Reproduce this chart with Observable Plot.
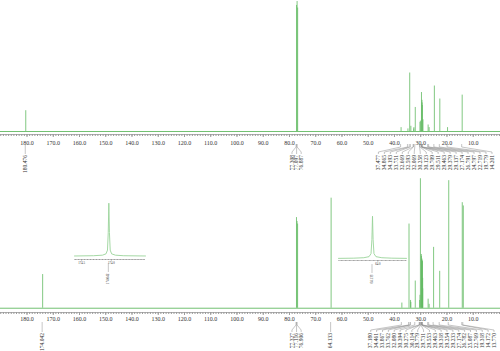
<!DOCTYPE html>
<html><head><meta charset="utf-8">
<script src="https://cdn.jsdelivr.net/npm/d3@7"></script>
<script src="https://cdn.jsdelivr.net/npm/@observablehq/plot@0.6"></script>
<style>
body{margin:0;background:#fff}
#chart{position:relative;width:500px;height:351px;overflow:hidden;background:#fff}
#chart svg{position:absolute;overflow:visible}
</style></head><body><div id="chart"></div>
<script>
// ---------- data ----------
const majorTicks = [180, 170, 160, 150, 140, 130, 120, 110, 100, 90, 80, 70, 60, 50, 40, 30, 20, 10];

const topPeakPpm = [180.476, 77.308, 77.097, 76.887,
  37.477, 34.865, 34.193, 33.751, 32.669, 32.593, 32.069, 30.258, 30.123, 29.709,
  29.511, 29.463, 29.379, 29.137, 27.174, 26.791, 24.797, 22.719, 19.779, 14.201];
const topPeakInt = [16, 97, 100, 95,
  3, 2, 45, 4, 2, 3, 18.5, 7, 8, 30,
  24, 22, 20, 9, 5, 3, 35, 25, 3, 28];
const topPeakGroup = ["a", "s", "s", "s",
  "c", "c", "c", "c", "c", "c", "c", "c", "c", "c",
  "c", "c", "c", "c", "c", "c", "c", "c", "c", "c"];

const botPeakPpm = [174.042, 77.327, 77.116, 76.906, 64.133,
  37.180, 34.461, 33.867, 33.762, 32.080, 30.394, 30.275, 30.114, 29.779, 29.731, 29.553,
  29.463, 29.318, 29.254, 29.233, 27.174, 26.782, 25.087, 22.769, 19.318, 14.172, 13.770];
const botPeakInt = [26, 70, 67, 65, 85,
  4, 65, 6, 4.5, 21, 6, 10, 100, 41.5, 40, 38,
  37, 36, 23, 15, 7, 3, 47, 28.5, 98.5, 81.5, 79];
const botPeakGroup = ["a", "s", "s", "s", "b",
  "c", "c", "c", "c", "c", "c", "c", "c", "c", "c", "c",
  "c", "c", "c", "c", "c", "c", "c", "c", "c", "c", "c"];

// inset 1 (carbonyl) and inset 2 (OCH2) traces
const inset1Ppm = [174.62, 174.3, 174.15, 174.09, 174.065, 174.052, 174.042, 174.032, 174.019, 173.995, 173.93, 173.8, 173.425];
const inset1Int = [1, 1.5, 2.5, 5, 12, 45, 100, 45, 12, 5, 2.5, 1.5, 1];
const inset1Ticks = [174.5, 174.0];
const inset1Label = [174.042];

const inset2Ppm = [64.983, 64.6, 64.35, 64.22, 64.17, 64.148, 64.133, 64.118, 64.096, 64.046, 63.9, 63.65, 63.283];
const inset2Int = [1, 1.5, 2.5, 5, 12, 45, 100, 45, 12, 5, 2.5, 1.5, 1];
const inset2Ticks = [64.0];
const inset2Label = [64.133];

// ---------- styling ----------
const GREEN = "#62ba62";
const LIGHT = "#9ad49a";
const AXIS = "#9a9a9a";
const TEXT = "#333";
const SERIF = "'Liberation Serif', 'Times New Roman', serif";
const minorMain = d3.range(0, 191);

function peakLabelMark(ppms, groups, cfg) {
  return (index, scales, values, dims) => {
    const x = scales.x;
    const y0 = dims.height - dims.marginBottom;
    const lx = ppms.map(p => x(p));
    for (const [name, idx] of d3.groups(d3.range(ppms.length), i => groups[i])) {
      const n = idx.length;
      if (n === 1) continue;
      const sp = cfg.spacing[name];
      const start = name === "c"
        ? dims.width - cfg.rightPad - (n - 1) * sp
        : d3.mean(idx, i => x(ppms[i])) - (n - 1) * sp / 2;
      idx.forEach((i, j) => lx[i] = start + j * sp);
    }
    const o = cfg.off;
    const g = d3.create("svg:g");
    g.append("g").attr("fill", "none").attr("stroke", "#8c8c8c").attr("stroke-width", 0.5)
      .selectAll("path").data(ppms).join("path")
      .attr("d", (p, i) => `M${x(p)},${y0 + o[0]}V${y0 + o[1]}L${lx[i]},${y0 + o[2]}V${y0 + o[3]}`);
    g.append("g").attr("font-family", SERIF).attr("font-size", cfg.fontSize).attr("fill", TEXT)
      .selectAll("text").data(ppms).join("text")
      .attr("transform", (p, i) => `translate(${lx[i]},${y0 + o[4]}) rotate(-90)`)
      .attr("text-anchor", "end").attr("dy", "0.32em")
      .text(p => p.toFixed(3));
    return g.node();
  };
}

function mainPanel(ppm, inten, groups, o) {
  const peaks = ppm.map((p, i) => ({ppm: p, int: inten[i]}));
  return Plot.plot({
    width: 500, height: o.height,
    marginTop: 0, marginLeft: 0, marginRight: 0, marginBottom: o.marginBottom,
    x: {domain: [190.1, -0.4], label: null},
    y: {domain: o.yDomain, axis: null},
    style: {background: "transparent", overflow: "visible"},
    marks: [
      Plot.ruleY([0], {stroke: GREEN, strokeWidth: 0.9}),
      Plot.ruleX(peaks, {x: "ppm", y1: 0, y2: "int", stroke: GREEN, strokeWidth: 0.8}),
      Plot.ruleY([o.yDomain[0]], {stroke: AXIS, strokeWidth: 0.8}),
      Plot.axisX({ticks: minorMain, tickSize: 2, tickFormat: () => "", stroke: AXIS, label: null}),
      Plot.axisX({ticks: majorTicks, tickSize: 3, tickPadding: o.tickPadding, tickFormat: d => d.toFixed(1),
        stroke: AXIS, fill: TEXT, fontSize: 6, fontFamily: SERIF, label: null}),
      peakLabelMark(ppm, groups, {spacing: {s: 4.6, c: o.spacing}, rightPad: o.rightPad,
        off: [10, 13, 18, 20, 21], fontSize: 5.5})
    ]
  });
}

function insetPanel(ppm, inten, ticks, minor, label, o) {
  const pts = ppm.map((p, i) => ({ppm: p, int: inten[i]}));
  return Plot.plot({
    width: o.width, height: o.height,
    marginTop: 0, marginLeft: 0, marginRight: 0, marginBottom: o.marginBottom,
    x: {domain: o.xDomain, label: null},
    y: {domain: o.yDomain, axis: null},
    style: {background: "transparent", overflow: "visible"},
    marks: [
      Plot.line(pts, {x: "ppm", y: "int", stroke: LIGHT, strokeWidth: 0.9}),
      Plot.ruleY([o.yDomain[0]], {stroke: AXIS, strokeWidth: 0.6}),
      Plot.axisX({ticks: minor, tickSize: 1, tickFormat: () => "", stroke: AXIS, label: null}),
      Plot.axisX({ticks: ticks, tickSize: 1.5, tickPadding: 1, tickFormat: d => d.toFixed(1),
        stroke: AXIS, fill: TEXT, fontSize: 3, fontFamily: SERIF, label: null}),
      peakLabelMark(label, ["a"], {spacing: {}, rightPad: 0, off: [4, 8, 11, 13, 14.5], fontSize: 3.3})
    ]
  });
}

const chart = document.getElementById("chart");
function place(el, left, top) {
  el.style.left = left + "px";
  el.style.top = top + "px";
  chart.appendChild(el);
}

place(mainPanel(topPeakPpm, topPeakInt, topPeakGroup,
  {height: 175, marginBottom: 41, yDomain: [-2.3, 100.8], tickPadding: 3.5, spacing: 5.98, rightPad: 8}), 0, 0);
place(mainPanel(botPeakPpm, botPeakInt, botPeakGroup,
  {height: 176, marginBottom: 39, yDomain: [-3.3, 102.5], tickPadding: 1.5, spacing: 5.87, rightPad: 6}), 0, 175);

place(insetPanel(inset1Ppm, inset1Int, inset1Ticks, d3.range(0, 24).map(i => 173.45 + i * 0.05), inset1Label,
  {width: 71, height: 100, marginBottom: 36, xDomain: [174.62, 173.425], yDomain: [-5.6, 114.4]}), 74, 195);
place(insetPanel(inset2Ppm, inset2Int, inset2Ticks, d3.range(0, 17).map(i => 63.3 + i * 0.1), inset2Label,
  {width: 68, height: 100, marginBottom: 40, xDomain: [64.983, 63.283], yDomain: [-4, 136.9]}), 338, 200);
</script></body></html>
